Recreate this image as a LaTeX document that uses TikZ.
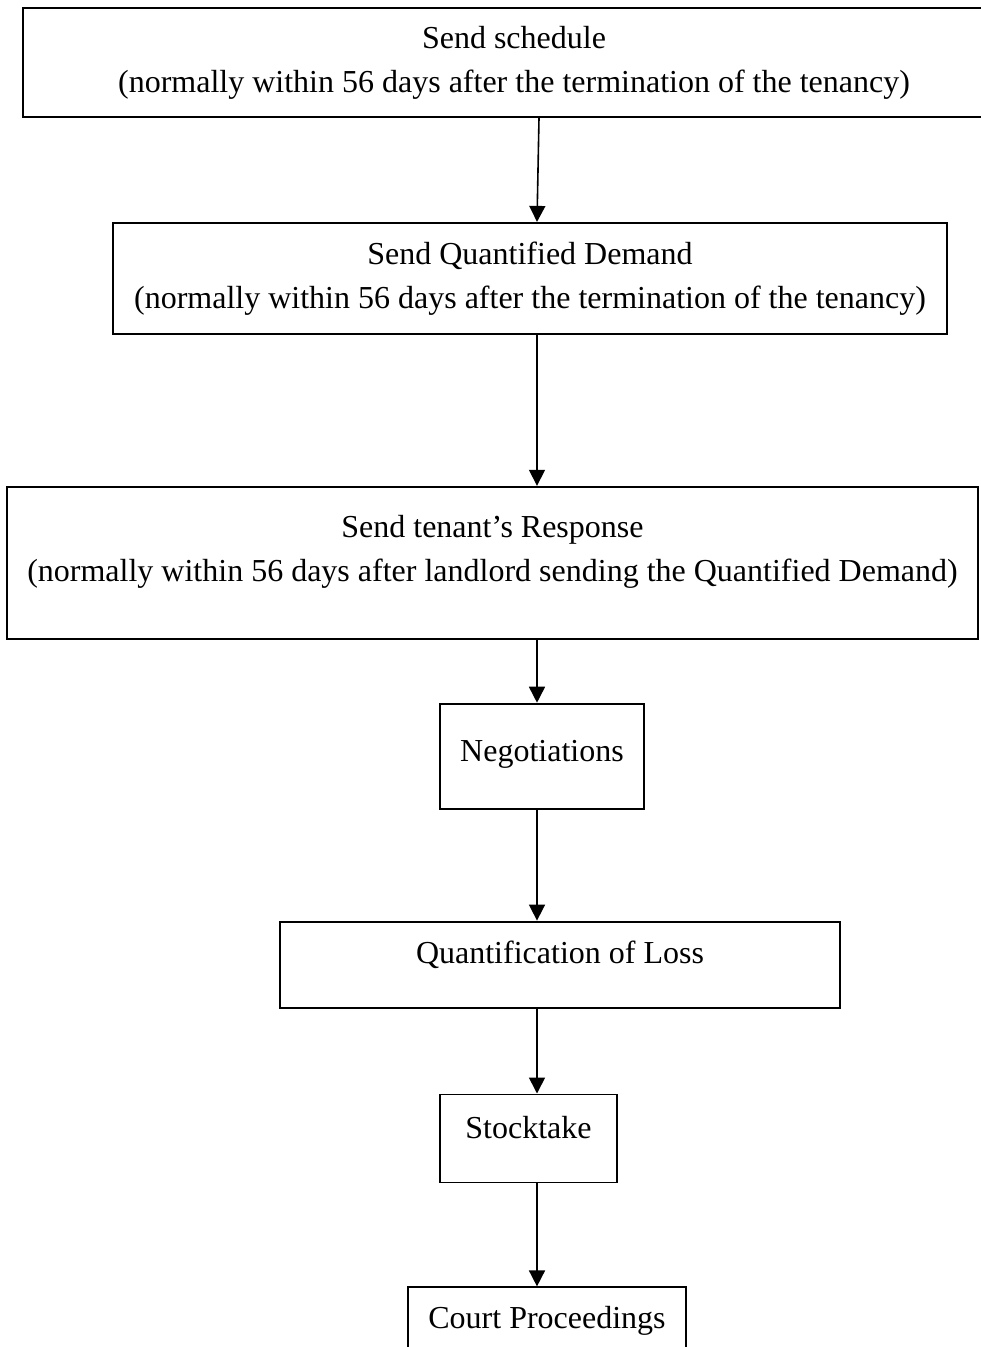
\documentclass[tikz,border=0pt]{standalone}
\usepackage{fontspec}
\setmainfont{Liberation Serif}
\usetikzlibrary{arrows.meta,positioning}
\newcommand\lowstrut[1]{\rule[-#1]{0pt}{#1}}
\tikzset{
  stage/.style={rectangle,draw=black,line width=1.9pt,align=center,inner sep=4pt,
    font=\fontsize{32}{44}\selectfont},
  arrow/.style={-{Triangle[length=16pt,width=16pt]},line width=1.6pt,draw=black}
}
\begin{document}
\begin{tikzpicture}[x=1pt,y=-1pt]
\clip (0,0) rectangle (981,1347);
\fill[white] (0,0) rectangle (981,1347);
\coordinate (spine) at (537,0);
\node[stage,anchor=north,minimum width=982pt,minimum height=109pt] (schedule) at (514,7)
  {Send schedule\\(normally within 56 days after the termination of the tenancy)};
\node[stage,below=104pt of schedule,xshift=16pt,minimum width=834pt,minimum height=111pt] (demand)
  {Send Quantified Demand\\(normally within 56 days after the termination of the tenancy)};
\node[stage,below=151pt of demand,xshift=-37.5pt,minimum width=971pt,minimum height=152pt] (response)
  {Send tenant’s Response\\(normally within 56 days after landlord sending the Quantified Demand)\lowstrut{28pt}};
\node[stage,below=63pt of response,xshift=49.5pt,minimum width=204pt,minimum height=105pt] (negot)
  {Negotiations\lowstrut{11pt}};
\node[stage,below=111pt of negot,xshift=18pt,minimum width=560pt,minimum height=86pt] (loss)
  {Quantification of Loss\lowstrut{24pt}};
\node[stage,below=85pt of loss,xshift=-31.5pt,minimum width=177pt,minimum height=88pt] (stock)
  {Stocktake\lowstrut{22pt}};
\node[stage,below=103pt of stock,xshift=18.5pt,minimum width=278pt,minimum height=88pt] (court)
  {Court Proceedings\lowstrut{28pt}};
% connectors
\draw[arrow] ([xshift=2pt]spine |- schedule.south) -- (spine |- demand.north);
\draw[arrow] (spine |- demand.south) -- (spine |- response.north);
\draw[arrow] (spine |- response.south) -- (spine |- negot.north);
\draw[arrow] (spine |- negot.south) -- (spine |- loss.north);
\draw[arrow] (spine |- loss.south) -- (spine |- stock.north);
\draw[arrow] (spine |- stock.south) -- (spine |- court.north);
\end{tikzpicture}
\end{document}
